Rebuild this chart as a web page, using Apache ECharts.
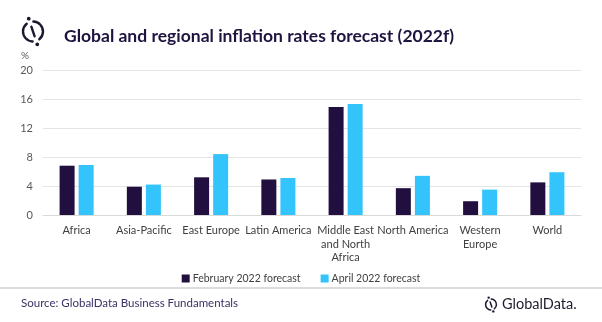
<!DOCTYPE html>
<html>
<head>
<meta charset="utf-8">
<script src="https://cdn.jsdelivr.net/npm/echarts@6/dist/echarts.min.js"></script>
<style>
  html, body { margin: 0; padding: 0; background: #ffffff; }
  #chart { width: 602px; height: 322px; }
</style>
</head>
<body>
<div id="chart"></div>
<script>
// Regions and inflation forecasts for 2022 (%)
const categories = [
  'Africa', 'Asia-Pacific', 'East Europe', 'Latin America',
  'Middle East\nand North\nAfrica', 'North America', 'Western\nEurope', 'World'
];
const februaryForecast = [6.8, 3.9, 5.2, 4.9, 14.9, 3.7, 1.9, 4.5];
const aprilForecast = [6.9, 4.2, 8.4, 5.1, 15.3, 5.4, 3.5, 5.9];
const seriesNames = ['February 2022 forecast', 'April 2022 forecast'];
const yTicks = { min: 0, max: 20, interval: 4 };

const FONT = 'Lato, "Noto Sans", sans-serif';
const NAVY = '#1f1440';

// Brand mark: a split ring crossed by a slash, with a dot at each end
function brandMark(cx, cy, r, lw, color) {
  const ang = Math.atan2(27, 9);
  const gap = 0.36;
  const dx = Math.cos(ang), dy = Math.sin(ang);
  const s = { stroke: color, fill: null, lineWidth: lw, lineCap: 'round' };
  return [
    { type: 'arc', shape: { cx, cy, r, startAngle: ang + gap, endAngle: ang + Math.PI - gap, clockwise: true }, style: s, silent: true },
    { type: 'arc', shape: { cx, cy, r, startAngle: ang + Math.PI + gap, endAngle: ang + 2 * Math.PI - gap, clockwise: true }, style: s, silent: true },
    { type: 'line', shape: { x1: cx - dx * r * 0.5, y1: cy - dy * r * 0.5, x2: cx + dx * r * 0.5, y2: cy + dy * r * 0.5 }, style: s, silent: true },
    { type: 'circle', shape: { cx: cx - dx * r * 1.35, cy: cy - dy * r * 1.35, r: lw * 0.8 }, style: { fill: color }, silent: true },
    { type: 'circle', shape: { cx: cx + dx * r * 1.35, cy: cy + dy * r * 1.35, r: lw * 0.8 }, style: { fill: color }, silent: true }
  ];
}

const chart = echarts.init(document.getElementById('chart'), null, { renderer: 'canvas' });

chart.setOption({
  backgroundColor: '#ffffff',
  animation: false,
  textStyle: { fontFamily: FONT },
  title: {
    text: 'Global and regional inflation rates forecast (2022f)',
    left: 59, top: 22,
    textStyle: { fontFamily: FONT, fontSize: 17.5, fontWeight: 'bold', color: NAVY }
  },
  legend: {
    data: seriesNames,
    left: 'center', top: 268,
    icon: 'rect', itemWidth: 8, itemHeight: 8, itemGap: 20,
    textStyle: { fontFamily: FONT, fontSize: 10.5, color: '#404040', padding: [0, 0, 0, -2] }
  },
  grid: { left: 43, right: 21, top: 70, height: 145, containLabel: false },
  xAxis: {
    type: 'category',
    data: categories,
    axisTick: { show: false },
    axisLine: { show: true, lineStyle: { color: '#d9d9d9', width: 1 } },
    axisLabel: {
      interval: 0, margin: 9,
      fontFamily: FONT, fontSize: 11, color: '#404040', lineHeight: 13.5
    }
  },
  yAxis: {
    type: 'value',
    min: yTicks.min, max: yTicks.max, interval: yTicks.interval,
    axisLine: { show: false },
    axisTick: { show: false },
    axisLabel: { margin: 10, fontFamily: FONT, fontSize: 11, color: '#595959' },
    splitLine: { lineStyle: { color: '#e4e4e4', width: 1 } }
  },
  series: [
    {
      name: seriesNames[0], type: 'bar', data: februaryForecast,
      barWidth: 15, barGap: '27%',
      itemStyle: { color: '#21103f' }
    },
    {
      name: seriesNames[1], type: 'bar', data: aprilForecast,
      barWidth: 15,
      itemStyle: { color: '#33c4fb' }
    }
  ],
  graphic: [
    ...brandMark(33, 31.5, 10, 2.4, '#1b1930'),
    { type: 'text', left: 21, top: 51, style: { text: '%', font: '10px ' + FONT, fill: '#595959' }, silent: true },
    { type: 'rect', shape: { x: 0, y: 287, width: 602, height: 2 }, style: { fill: '#dcdcdc' }, silent: true },
    { type: 'text', left: 21, top: 297, style: { text: 'Source: GlobalData Business Fundamentals', font: '11.5px ' + FONT, fill: '#3a3164' }, silent: true },
    ...brandMark(491, 304.5, 5.4, 1.5, '#1b1930'),
    { type: 'text', left: 502, top: 297, style: { text: 'GlobalData.', font: '14.5px ' + FONT, fill: '#1f1d2e' }, silent: true }
  ]
});
</script>
</body>
</html>
